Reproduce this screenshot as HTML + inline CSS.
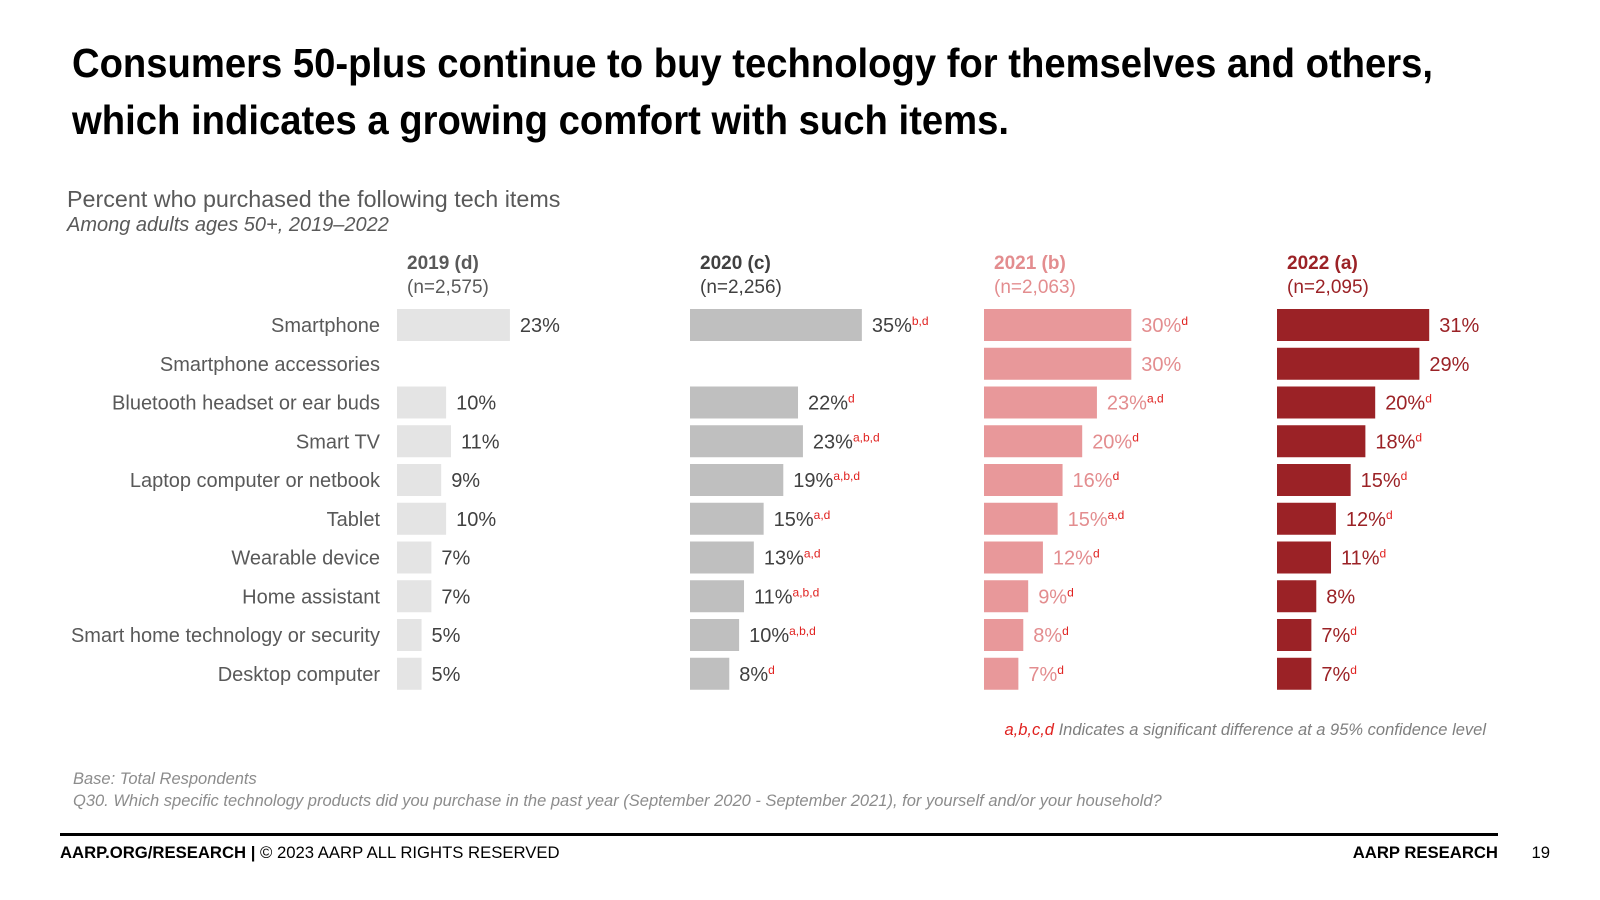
<!DOCTYPE html>
<html><head><meta charset="utf-8"><style>
html,body{margin:0;padding:0;background:#fff;}
svg{display:block;font-family:"Liberation Sans",Arial,sans-serif;}
</style></head><body>
<svg id="chart" width="1600" height="900" viewBox="0 0 1600 900" xmlns="http://www.w3.org/2000/svg">
<text x="72" y="77" font-size="41" font-weight="bold" fill="#000" textLength="1361" lengthAdjust="spacingAndGlyphs">Consumers 50-plus continue to buy technology for themselves and others,</text>
<text x="72" y="134" font-size="41" font-weight="bold" fill="#000" textLength="937" lengthAdjust="spacingAndGlyphs">which indicates a growing comfort with such items.</text>
<text x="67" y="207" font-size="23.3" fill="#595959">Percent who purchased the following tech items</text>
<text x="67" y="231" font-size="20" font-style="italic" fill="#595959">Among adults ages 50+, 2019–2022</text>
<g id="plot"></g>
<text x="1486" y="735" font-size="16.5" font-style="italic" fill="#7f7f7f" text-anchor="end"><tspan fill="#e0211f">a,b,c,d</tspan> Indicates a significant difference at a 95% confidence level</text>
<text x="73" y="784" font-size="16.5" font-style="italic" fill="#8c8c8c">Base: Total Respondents</text>
<text x="73" y="806" font-size="16.5" font-style="italic" fill="#8c8c8c">Q30. Which specific technology products did you purchase in the past year (September 2020 - September 2021), for yourself and/or your household?</text>
<rect x="60" y="833" width="1438" height="3" fill="#000"/>
<text x="60" y="858" font-size="16.7" fill="#000"><tspan font-weight="bold">AARP.ORG/RESEARCH |</tspan> © 2023 AARP ALL RIGHTS RESERVED</text>
<text x="1498" y="858" font-size="16.7" font-weight="bold" fill="#000" text-anchor="end">AARP RESEARCH</text>
<text x="1550" y="858" font-size="16.7" fill="#000" text-anchor="end">19</text>
</svg>
<script>
const categories = ["Smartphone","Smartphone accessories","Bluetooth headset or ear buds","Smart TV","Laptop computer or netbook","Tablet","Wearable device","Home assistant","Smart home technology or security","Desktop computer"];
const years = ["2019 (d)","2020 (c)","2021 (b)","2022 (a)"];
const sampleSizes = ["(n=2,575)","(n=2,256)","(n=2,063)","(n=2,095)"];
const values2019 = [23,null,10,11,9,10,7,7,5,5];
const values2020 = [35,null,22,23,19,15,13,11,10,8];
const values2021 = [30,30,23,20,16,15,12,9,8,7];
const values2022 = [31,29,20,18,15,12,11,8,7,7];
const sig2019 = ["","","","","","","","","",""];
const sig2020 = ["b,d","","d","a,b,d","a,b,d","a,d","a,d","a,b,d","a,b,d","d"];
const sig2021 = ["d","","a,d","d","d","a,d","d","d","d","d"];
const sig2022 = ["","","d","d","d","d","d","","d","d"];

const NS="http://www.w3.org/2000/svg";
const plot=document.getElementById('plot');
const colX=[397,690,984,1277];
const barColors=["#e4e4e4","#bfbfbf","#e8989a","#9b2226"];
const textColors=["#404040","#404040","#e38d8f","#9b2226"];
const headColors=["#595959","#404040","#e38d8f","#9b2226"];
const series=[values2019,values2020,values2021,values2022];
const sigs=[sig2019,sig2020,sig2021,sig2022];
const pxPerPct=4.91;
function xScale(v){return v*pxPerPct;}
function yScale(i){return 325+i*38.75;}
const barH=32;
function mk(tag,attrs,txt){const e=document.createElementNS(NS,tag);for(const k in attrs)e.setAttribute(k,attrs[k]);if(txt!=null)e.textContent=txt;return e;}

categories.forEach((c,i)=>{
  const t=mk('text',{x:380,y:yScale(i)+7,'font-size':20,fill:'#595959','text-anchor':'end'},c);
  
  
  plot.appendChild(t);
});

series.forEach((vals,s)=>{
  const h1=mk('text',{x:colX[s]+10,y:269,'font-size':19,'font-weight':'bold',fill:headColors[s]},years[s]);
  
  
  plot.appendChild(h1);
  const h2=mk('text',{x:colX[s]+10,y:293,'font-size':19,fill:headColors[s]},sampleSizes[s]);
  
  
  plot.appendChild(h2);
  vals.forEach((v,i)=>{
    if(v==null)return;
    const w=xScale(v);
    const r=mk('rect',{x:colX[s],y:yScale(i)-barH/2,width:w,height:barH,fill:barColors[s]});
    
    
    plot.appendChild(r);
    const t=mk('text',{x:colX[s]+w+10,y:yScale(i)+7,'font-size':20,fill:textColors[s]});
    
    
    t.appendChild(mk('tspan',{},v+'%'));
    if(sigs[s][i]){
      t.appendChild(mk('tspan',{dy:-7,'font-size':12,fill:'#e0211f'},sigs[s][i]));
    }
    plot.appendChild(t);
  });
});
</script>
</body></html>
